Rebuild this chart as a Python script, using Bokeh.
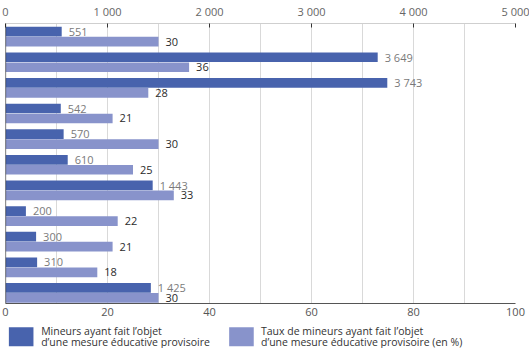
from bokeh.plotting import figure
from bokeh.layouts import column
from bokeh.models import (ColumnDataSource, Range1d, LinearAxis, FixedTicker,
                          Span, Label)
from bokeh.core.properties import value
from bokeh.embed import file_html
from bokeh.resources import INLINE

# --- data -------------------------------------------------------------
mineurs = [551, 3649, 3743, 542, 570, 610, 1443, 200, 300, 310, 1425]
taux = [30, 36, 28, 21, 30, 25, 33, 22, 21, 18, 30]

count_ticks = [0, 1000, 2000, 3000, 4000, 5000]
count_tick_labels = ["0", "1 000", "2 000", "3 000", "4 000", "5 000"]
pct_ticks = [0, 20, 40, 60, 80, 100]
pct_tick_labels = ["0", "20", "40", "60", "80", "100"]

legend_labels = [
    ["Mineurs ayant fait l\u2019objet", "d\u2019une mesure \u00e9ducative provisoire"],
    ["Taux de mineurs ayant fait l\u2019objet", "d\u2019une mesure \u00e9ducative provisoire (en %)"],
]

# --- styling ----------------------------------------------------------
FONT = "Open Sans"
DARK = "#4863ad"
LIGHT = "#8893cb"
GRID = "#d9d9d9"

W = 529
H_MAIN = 320
H_LEG = 28

rows = list(range(len(mineurs)))
offset = 0.195
bar_h = 0.38

def fmt(v):
    return f"{v:,}".replace(",", " ")

src = ColumnDataSource(dict(
    y_count=[r - offset for r in rows],
    y_pct=[r + offset for r in rows],
    mineurs=mineurs,
    taux=taux,
    mineurs_txt=[fmt(v) for v in mineurs],
    taux_txt=[str(v) for v in taux],
))

p = figure(width=W, height=H_MAIN, output_backend="svg", toolbar_location=None,
           x_range=Range1d(0, 5000), y_range=Range1d(10.414, -0.512),
           x_axis_location=None, y_axis_location=None,
           min_border_left=5, min_border_right=14, min_border_top=23,
           min_border_bottom=17)
p.outline_line_color = None
p.background_fill_color = "white"
p.extra_x_ranges = {"pct": Range1d(0, 100)}

# vertical grid every 500 (= every 10 %)
p.xgrid.ticker = FixedTicker(ticks=list(range(0, 5001, 500)))
p.xgrid.grid_line_color = GRID
p.ygrid.visible = False

# bars
p.hbar(y="y_count", left=0, right="mineurs", height=bar_h, source=src,
       fill_color=DARK, line_color=None)
p.hbar(y="y_pct", left=0, right="taux", height=bar_h, source=src,
       fill_color=LIGHT, line_color=None, x_range_name="pct")

# value labels
p.text(x="mineurs", y="y_count", text="mineurs_txt", source=src,
       x_offset=7, text_baseline="middle", text_align="left",
       text_font=value(FONT), text_font_size="11px", text_color="#7a7a7a")
p.text(x="taux", y="y_pct", text="taux_txt", source=src, x_range_name="pct",
       x_offset=7, text_baseline="middle", text_align="left",
       text_font=value(FONT), text_font_size="11px", text_color="#2b2b2b")

# top axis: counts
top = LinearAxis(ticker=FixedTicker(ticks=count_ticks))
top.major_label_overrides = dict(zip(count_ticks, count_tick_labels))
top.axis_line_color = "#cfcfcf"
top.major_tick_in = 4
top.major_tick_out = 0
top.major_tick_line_color = "#333333"
top.minor_tick_line_color = None
top.major_label_standoff = 5
top.major_label_text_font = FONT
top.major_label_text_font_size = "11px"
top.major_label_text_color = "#666666"
p.add_layout(top, "above")

# bottom axis: percentages
bot = LinearAxis(x_range_name="pct", ticker=FixedTicker(ticks=pct_ticks))
bot.major_label_overrides = dict(zip(pct_ticks, pct_tick_labels))
bot.axis_line_color = "#555555"
bot.major_tick_in = 0
bot.major_tick_out = 0
bot.minor_tick_line_color = None
bot.major_label_standoff = 4
bot.major_label_text_font = FONT
bot.major_label_text_font_size = "11px"
bot.major_label_text_color = "#555555"
p.add_layout(bot, "below")

# dark baseline at zero
p.add_layout(Span(location=0, dimension="height", line_color="#222222",
                  line_width=1.2))

# unit marker at the end of the percentage axis
p.add_layout(Label(x=100, y=10.414, x_range_name="pct", text="%",
                   x_offset=2, y_offset=1, text_baseline="bottom",
                   text_align="left", text_font=FONT, text_font_size="10px",
                   text_color="#555555"))

# --- legend -------------------------------------------------------------
leg = figure(width=W, height=H_LEG, output_backend="svg", toolbar_location=None,
             x_range=Range1d(0, W), y_range=Range1d(H_LEG, 0),
             x_axis_location=None, y_axis_location=None,
             min_border=0)
leg.outline_line_color = None
leg.xgrid.visible = False
leg.ygrid.visible = False

swatch_left = [3.5, 232]
swatch_w = 25.5
text_left = [37, 265]
line_centers = [10.5, 21.3]
leg.quad(left=swatch_left, right=[s + swatch_w for s in swatch_left],
         top=[6.7, 6.7], bottom=[25.7, 25.7], fill_color=[DARK, LIGHT],
         line_color=None)
for i, (l1, l2) in enumerate(legend_labels):
    leg.text(x=[text_left[i], text_left[i]], y=line_centers, text=[l1, l2],
             text_baseline="middle", text_align="left",
             text_font=value(FONT), text_font_size="10.5px",
             text_color="#333333")

layout = column(p, leg, spacing=0)
open("out.html", "w").write(file_html(layout, INLINE))
